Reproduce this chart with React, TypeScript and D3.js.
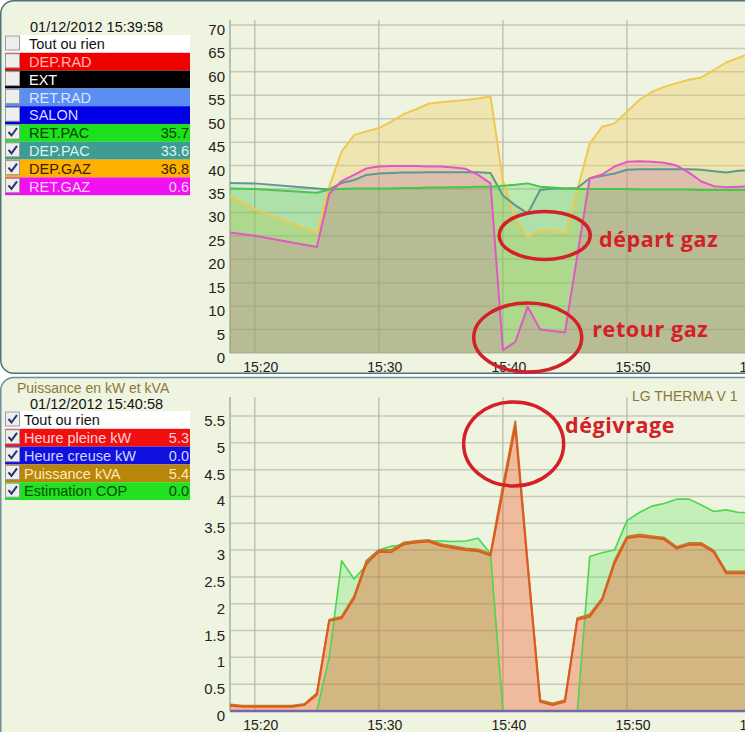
import React from 'react';
import * as d3 from 'd3';

// ---------- DATA ----------
const TOP_TIMES = ["15:18","15:20","15:25","15:26","15:27","15:28","15:29","15:30","15:31","15:32","15:33","15:34","15:35","15:36","15:37","15:38","15:39","15:40","15:41","15:42","15:43","15:44","15:45","15:46","15:47","15:48","15:49","15:50","15:51","15:52","15:53","15:54","15:55","15:56","15:57","15:58","15:59","16:00"];
const DEP_GAZ = [33.4,30.7,25.6,35.5,43,46.5,47.3,48,49.4,51,52,53.2,53.5,53.8,54,54.3,54.8,36.8,28.7,24.8,26.2,26.2,25.5,34.8,44.7,48.3,49,51.5,54,55.7,56.8,57.6,58.3,58.8,60.4,62,63,64];
const DEP_PAC = [36.3,36.2,35.1,34.9,36.3,36.9,38,38.3,38.4,38.5,38.5,38.6,38.6,38.6,38.6,38.6,38.4,33.6,31.5,29.8,34.8,35.1,35.1,35.2,37.3,37.8,38.3,39.1,39.2,39.2,39.2,39.2,39.2,39.1,38.8,38.5,38.9,39.0];
const RET_PAC = [35.1,35.0,34.2,34.9,35.0,35.1,35.1,35.1,35.1,35.2,35.2,35.3,35.3,35.4,35.4,35.5,35.5,35.7,35.9,36.2,35.5,35.3,35.1,35.0,35.0,35.0,35.0,35.0,34.9,34.9,34.9,34.9,34.9,34.8,34.8,34.8,34.8,34.8];
const RET_GAZ = [25.7,25.0,22.6,34.0,36.7,38.0,39.4,39.8,39.9,39.9,39.9,39.8,39.8,39.6,39.3,38.0,36.2,0.6,2.4,9.9,5.0,4.7,4.4,20.8,37.3,38.1,39.8,40.8,40.9,40.8,40.6,40.0,38.5,36.6,35.6,35.4,35.5,35.6];

const BOT_TIMES = ["15:18","15:19","15:20","15:21","15:22","15:23","15:24","15:25","15:26","15:27","15:28","15:29","15:30","15:31","15:32","15:33","15:34","15:35","15:36","15:37","15:38","15:39","15:40","15:41","15:42","15:43","15:44","15:45","15:46","15:47","15:48","15:49","15:50","15:51","15:52","15:53","15:54","15:55","15:56","15:57","15:58","15:59","16:00"];
const HEURE_PLEINE = [0.1,0.08,0.08,0.08,0.08,0.08,0.11,0.3,1.68,1.73,2.1,2.75,2.97,2.96,3.11,3.14,3.16,3.08,3.04,3.0,2.98,2.9,4.1,5.3,2.7,0.17,0.11,0.17,1.7,1.76,2.07,2.75,3.22,3.26,3.23,3.2,3.03,3.1,3.1,2.96,2.57,2.57,2.57];
const PUISSANCE_KVA = [0.12,0.1,0.1,0.1,0.1,0.1,0.13,0.33,1.7,1.76,2.14,2.8,3.0,3.0,3.14,3.17,3.19,3.11,3.07,3.03,3.01,2.93,4.2,5.4,2.75,0.2,0.14,0.2,1.73,1.8,2.1,2.8,3.25,3.29,3.26,3.23,3.06,3.13,3.13,2.99,2.6,2.6,2.6];
const ESTIMATION_COP = [0,0,0,0,0,0,0,0,1.0,2.8,2.46,2.72,3.0,3.07,3.1,3.15,3.17,3.17,3.16,3.17,3.22,2.93,0,0,0,0,0,0,0,2.88,2.95,3.0,3.55,3.7,3.82,3.87,3.95,3.95,3.84,3.72,3.75,3.7,3.7];
const HEURE_CREUSE = [0,0,0,0,0,0,0,0,0,0,0,0,0,0,0,0,0,0,0,0,0,0,0,0,0,0,0,0,0,0,0,0,0,0,0,0,0,0,0,0,0,0,0];

const X_TICKS = ["15:20","15:30","15:40","15:50","16:00"];
const TOP_Y_TICKS = [0,5,10,15,20,25,30,35,40,45,50,55,60,65,70];
const BOT_Y_TICKS = [0,0.5,1,1.5,2,2.5,3,3.5,4,4.5,5,5.5];

const TOP_DATE = "01/12/2012 15:39:58";
const BOT_DATE = "01/12/2012 15:40:58";
const BOT_TITLE = "Puissance en kW et kVA";
const BOT_RIGHT_TITLE = "LG THERMA V 1";

const TOP_LEGEND_LABELS = ["Tout ou rien","DEP.RAD","EXT","RET.RAD","SALON","RET.PAC","DEP.PAC","DEP.GAZ","RET.GAZ"];
const TOP_LEGEND_VALUES = ["","","","","","35.7","33.6","36.8","0.6"];
const TOP_LEGEND_CHECKED = [false,false,false,false,false,true,true,true,true];
const BOT_LEGEND_LABELS = ["Tout ou rien","Heure pleine kW","Heure creuse kW","Puissance kVA","Estimation COP"];
const BOT_LEGEND_VALUES = ["","5.3","0.0","5.4","0.0"];
const BOT_LEGEND_CHECKED = [true,true,true,true,true];

// annotations: [label, time, value]
const ANNOT_TEXT_TOP = [["départ gaz","15:47:45",22.6],["retour gaz","15:47:12",3.4]];
const ANNOT_ELL_TOP = [["15:43:22",25.1],["15:42:00",3.3]];
const ANNOT_TEXT_BOT = [["dégivrage","15:45:00",5.19]];
const ANNOT_ELL_BOT = [["15:40:52",4.98]];

// ---------- STYLES ----------
const TOP_LEGEND_STYLE = [
  { bg: '#ffffff', fg: '#111111' },
  { bg: '#f20000', fg: '#ffb8b8' },
  { bg: '#000000', fg: '#ffffff' },
  { bg: '#5a8ef0', fg: '#dce6ff' },
  { bg: '#0000e6', fg: '#d8dcff' },
  { bg: '#1ee01e', fg: '#004400' },
  { bg: '#3e9c92', fg: '#d8f4ef' },
  { bg: '#ffb000', fg: '#3a2200' },
  { bg: '#f010f0', fg: '#ffd0ff' },
];
const BOT_LEGEND_STYLE = [
  { bg: '#ffffff', fg: '#111111' },
  { bg: '#f01010', fg: '#ffd0d0' },
  { bg: '#1010e0', fg: '#d0d8ff' },
  { bg: '#b8860b', fg: '#ffeab8' },
  { bg: '#22e022', fg: '#005000' },
];

const FONT = "'Liberation Sans', Arial, sans-serif";
const BG = '#eff4e0';

const parseHM = d3.timeParse('%H:%M');
const parseHMS = d3.timeParse('%H:%M:%S');

type Pt = { t: Date; v: number };

function series(times: string[], vals: number[]): Pt[] {
  return times.map((s, i) => ({ t: parseHM(s) as Date, v: vals[i] }));
}

function Legend({ top, labels, values, checked, styles, textX }: any) {
  const rowH = 17.8;
  return (
    <g>
      {labels.map((lab: string, i: number) => {
        const y = top + i * rowH;
        const st = styles[i];
        return (
          <g key={lab}>
            <rect x={5} y={y} width={185} height={rowH} fill={st.bg} />
            <rect x={5.5} y={y + 1} width={14} height={14} fill="#eeeeee" stroke="#9a9a9a" strokeWidth={1} />
            {checked[i] && (
              <path d={`M ${8.5} ${y + 8} l 3 3.5 l 5.5 -7.5`} fill="none" stroke="#26346e" strokeWidth={2} />
            )}
            <text x={textX} y={y + 14.2} fill={st.fg} fontSize={14.5} fontFamily={FONT}>{lab}</text>
            {values[i] && (
              <text x={189} y={y + 14.2} fill={st.fg} fontSize={14.5} fontFamily={FONT} textAnchor="end">{values[i]}</text>
            )}
          </g>
        );
      })}
    </g>
  );
}

export default function App() {
  const W = 745, H = 732;
  const x = d3.scaleTime().domain([parseHM('15:18') as Date, parseHM('16:00') as Date]).range([230, 751]);
  const yTop = d3.scaleLinear().domain([0, 70]).range([353, 25]);
  const yBot = d3.scaleLinear().domain([0, 5.5]).range([711, 416]);
  const topPlotTop = 20, botPlotTop = 397;

  const areaTop = d3.area<Pt>().x(d => x(d.t)).y0(yTop(0)).y1(d => yTop(d.v));
  const lineTop = d3.line<Pt>().x(d => x(d.t)).y(d => yTop(d.v));
  const areaBot = d3.area<Pt>().x(d => x(d.t)).y0(yBot(0)).y1(d => yBot(d.v));
  const lineBot = d3.line<Pt>().x(d => x(d.t)).y(d => yBot(d.v));

  const topSeries = [
    { d: series(TOP_TIMES, DEP_GAZ), fill: '#f0c850', fo: 0.33, stroke: '#f0c850' },
    { d: series(TOP_TIMES, DEP_PAC), fill: '#50968c', fo: 0.12, stroke: '#5a9a90' },
    { d: series(TOP_TIMES, RET_PAC), fill: '#46d246', fo: 0.3, stroke: '#46c846' },
    { d: series(TOP_TIMES, RET_GAZ), fill: '#dc50b4', fo: 0.2, stroke: '#e058c4' },
  ];

  const cop = series(BOT_TIMES, ESTIMATION_COP);
  const hp = series(BOT_TIMES, HEURE_PLEINE);
  const kva = series(BOT_TIMES, PUISSANCE_KVA);
  const hc = series(BOT_TIMES, HEURE_CREUSE);

  const fmt = d3.format('~g');

  const grid = (yScale: any, ticks: number[], plotTop: number, plotBottom: number) => (
    <g>
      {ticks.map(t => (
        <line key={'h' + t} x1={230} x2={W} y1={yScale(t)} y2={yScale(t)} stroke="#c6cabb" strokeWidth={1.5} />
      ))}
      {X_TICKS.map(s => {
        const xx = x(parseHM(s) as Date);
        return <line key={'v' + s} x1={xx} x2={xx} y1={plotTop} y2={plotBottom} stroke="#b4b8aa" strokeWidth={1.2} />;
      })}
      <line x1={230} x2={230} y1={plotTop} y2={plotBottom} stroke="#a8ac9e" strokeWidth={1.5} />
    </g>
  );

  const axisLabels = (yScale: any, ticks: number[], plotBottom: number) => (
    <g fontFamily={FONT} fill="#222">
      {ticks.map(t => (
        <text key={'yl' + t} x={225} y={yScale(t) + 10} fontSize={15} textAnchor="end">{fmt(t)}</text>
      ))}
      {X_TICKS.map(s => (
        <text key={'xl' + s} x={x(parseHM(s) as Date) + 6} y={plotBottom + 18.5} fontSize={14} textAnchor="middle">{s}</text>
      ))}
    </g>
  );

  const red = '#d42028';
  const annFont = { fontSize: 21.5, fontWeight: 'bold' as const, fontFamily: "'Open Sans', sans-serif", letterSpacing: 0.6 };

  return (
    <div style={{ position: 'absolute', left: 0, top: 0 }}>
      <svg width={W} height={H} style={{ display: 'block', background: '#ffffff' }}>
        {/* panels */}
        <rect x={0.75} y={0.75} width={800} height={372.5} rx={13} fill={BG} stroke="#4f717a" strokeWidth={1.5} />
        <rect x={0.75} y={377.5} width={800} height={380} rx={13} fill={BG} stroke="#6f8c98" strokeWidth={1.5} />

        {/* TOP CHART */}
        {grid(yTop, TOP_Y_TICKS, topPlotTop, yTop(0))}
        {topSeries.map((s, i) => (
          <path key={'ta' + i} d={areaTop(s.d) as string} fill={s.fill} fillOpacity={s.fo} />
        ))}
        {topSeries.map((s, i) => (
          <path key={'tl' + i} d={lineTop(s.d) as string} fill="none" stroke={s.stroke} strokeWidth={2} strokeLinejoin="round" />
        ))}
        {axisLabels(yTop, TOP_Y_TICKS, yTop(0))}

        {/* BOTTOM CHART */}
        {grid(yBot, BOT_Y_TICKS, botPlotTop, yBot(0))}
        <path d={areaBot(cop) as string} fill="#50e050" fillOpacity={0.27} />
        <path d={areaBot(hp) as string} fill="#f05020" fillOpacity={0.35} />
        <path d={lineBot(cop) as string} fill="none" stroke="#4cd64c" strokeWidth={1.6} strokeLinejoin="round" />
        <path d={lineBot(kva) as string} fill="none" stroke="#b8802a" strokeWidth={2} strokeLinejoin="round" />
        <path d={lineBot(hp) as string} fill="none" stroke="#e0581e" strokeWidth={2} strokeLinejoin="round" />
        <path d={lineBot(hc) as string} fill="none" stroke="#7468a8" strokeWidth={2.5} />
        {axisLabels(yBot, BOT_Y_TICKS, yBot(0))}

        {/* legends */}
        <text x={30} y={32} fontSize={14.5} fontFamily={FONT} fill="#111">{TOP_DATE}</text>
        <Legend top={35} textX={29} labels={TOP_LEGEND_LABELS} values={TOP_LEGEND_VALUES} checked={TOP_LEGEND_CHECKED} styles={TOP_LEGEND_STYLE} />
        <text x={17} y={393} fontSize={14} fontFamily={FONT} fill="#8a7a38">{BOT_TITLE}</text>
        <text x={632} y={401} fontSize={14} fontFamily={FONT} fill="#8a7a38">{BOT_RIGHT_TITLE}</text>
        <text x={30} y={408.5} fontSize={14.5} fontFamily={FONT} fill="#111">{BOT_DATE}</text>
        <Legend top={411} textX={24} labels={BOT_LEGEND_LABELS} values={BOT_LEGEND_VALUES} checked={BOT_LEGEND_CHECKED} styles={BOT_LEGEND_STYLE} />

        {/* annotations */}
        {ANNOT_ELL_TOP.map((a, i) => (
          <ellipse key={'e' + i} cx={x(parseHMS(a[0] as string) as Date)} cy={yTop(a[1] as number)} rx={i === 0 ? 45.5 : 54} ry={i === 0 ? 24 : 34.5} fill="none" stroke={red} strokeWidth={3.5} />
        ))}
        {ANNOT_TEXT_TOP.map((a, i) => (
          <text key={'t' + i} x={x(parseHMS(a[1] as string) as Date)} y={yTop(a[2] as number)} {...annFont} fill={red}>{a[0]}</text>
        ))}
        {ANNOT_ELL_BOT.map((a, i) => (
          <ellipse key={'eb' + i} cx={x(parseHMS(a[0] as string) as Date)} cy={yBot(a[1] as number)} rx={50} ry={42} fill="none" stroke={red} strokeWidth={3.5} />
        ))}
        {ANNOT_TEXT_BOT.map((a, i) => (
          <text key={'tb' + i} x={x(parseHMS(a[1] as string) as Date)} y={yBot(a[2] as number)} {...annFont} fill={red}>{a[0]}</text>
        ))}
      </svg>
    </div>
  );
}
